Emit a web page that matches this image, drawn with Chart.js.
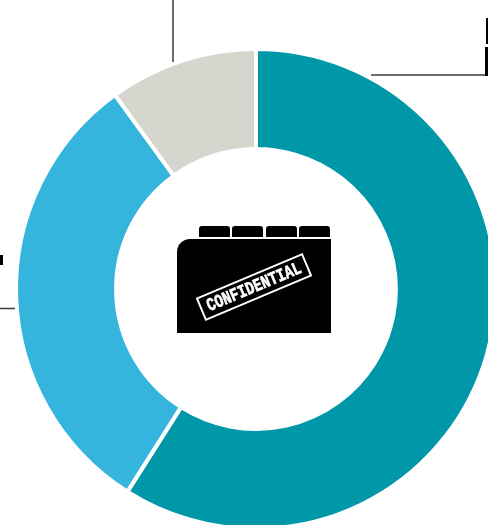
<!DOCTYPE html>
<html>
<head>
<meta charset="utf-8">
<title>Doughnut</title>
<style>
    html, body { margin: 0; padding: 0; width: 488px; height: 525px; overflow: hidden; background: #fff; }
    canvas { position: absolute; left: 0; top: 0; }
</style>
<script src="https://cdn.jsdelivr.net/npm/chart.js@4/dist/chart.umd.min.js"></script>
</head>
<body>
<canvas id="ring" width="512" height="578"></canvas>
<script>
const sliceValues = [59, 31, 10];
const sliceColors = ['#0097a9', '#35b5de', '#d6d5ce'];
const folderLabel = 'CONFIDENTIAL';

// Leader lines running out from the ring, plus the bits of black at their far ends
function drawLeaders(ctx) {
    ctx.strokeStyle = '#3a3a3a';
    ctx.lineWidth = 1.5;
    ctx.beginPath();
    ctx.moveTo(173, 0);
    ctx.lineTo(173, 62);
    ctx.moveTo(371, 75);
    ctx.lineTo(486, 75);
    ctx.moveTo(0, 308.5);
    ctx.lineTo(15, 308.5);
    ctx.stroke();

    ctx.fillStyle = '#000';
    ctx.fillRect(486, 18, 2, 26);
    ctx.fillRect(485, 47, 3, 29);
    ctx.fillRect(0, 255, 3, 10);
}

// Folder icon in the hole of the ring
function drawFolder(ctx) {
    ctx.fillStyle = '#000';
    [[199, 31], [232, 31], [266, 31], [299, 31]].forEach(([x, w]) => {
        ctx.beginPath();
        ctx.roundRect(x, 226, w, 11, [3, 3, 0, 0]);
        ctx.fill();
    });

    ctx.beginPath();
    ctx.roundRect(177, 239, 154, 94, [13, 0, 0, 0]);
    ctx.fill();

    ctx.save();
    ctx.translate(254, 287);
    ctx.rotate(-22.8 * Math.PI / 180);
    ctx.strokeStyle = '#fff';
    ctx.lineWidth = 2;
    ctx.strokeRect(-57, -11.5, 114, 23);
    ctx.fillStyle = '#fff';
    ctx.font = 'bold 14px "Liberation Mono", "DejaVu Sans Mono", monospace';
    ctx.textAlign = 'center';
    ctx.textBaseline = 'middle';
    ctx.scale(1, 1.3);
    ctx.lineWidth = 0.5;
    ctx.fillText(folderLabel, 0, 0.5);
    ctx.strokeText(folderLabel, 0, 0.5);
    ctx.restore();
}

const overlayPlugin = {
    id: 'overlay',
    afterDraw(chart) {
        const ctx = chart.ctx;
        drawLeaders(ctx);
        drawFolder(ctx);
    }
};

new Chart(document.getElementById('ring'), {
    type: 'doughnut',
    data: {
        datasets: [{
            data: sliceValues,
            backgroundColor: sliceColors,
            borderColor: '#fff',
            borderWidth: 4
        }]
    },
    options: {
        responsive: false,
        animation: false,
        radius: 240,
        cutout: '58.3%',
        plugins: {
            legend: { display: false },
            tooltip: { enabled: false }
        }
    },
    plugins: [overlayPlugin]
});
</script>
</body>
</html>
